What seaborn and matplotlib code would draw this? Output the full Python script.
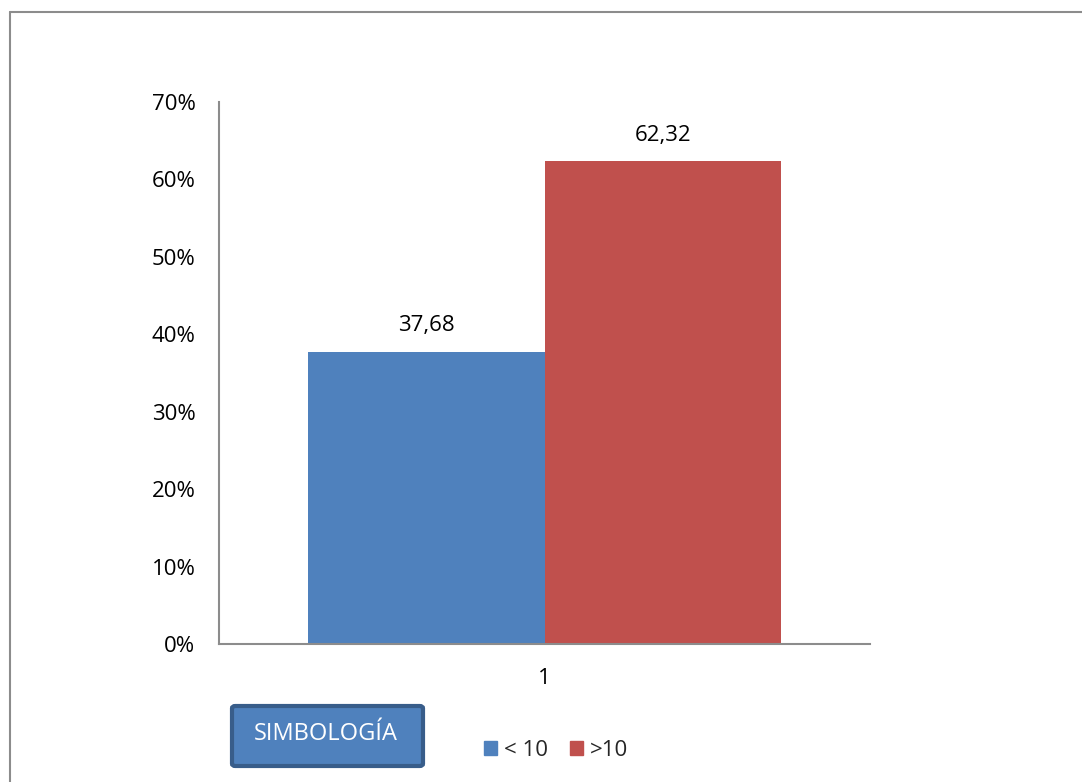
import matplotlib
matplotlib.use("Agg")
import matplotlib.pyplot as plt
from matplotlib.patches import FancyBboxPatch, Rectangle
from matplotlib.lines import Line2D
from matplotlib.ticker import FuncFormatter
import seaborn as sns
import pandas as pd

# Data
categories = ["1", "1"]
groups = ["< 10", ">10"]
values = [37.68, 62.32]
colors = ["#4F81BD", "#C0504D"]
y_ticks = [0, 10, 20, 30, 40, 50, 60, 70]

sns.set_theme(style="white")
plt.rcParams["font.family"] = ["Open Sans", "DejaVu Sans"]

FS = 16

df = pd.DataFrame({"cat": categories, "grupo": groups, "valor": values})

fig = plt.figure(figsize=(10.82, 7.82), dpi=100)
ax = fig.add_axes([0.2024, 0.1765, 0.6017, 0.6931])

sns.barplot(data=df, x="cat", y="valor", hue="grupo", palette=colors,
            width=0.8, saturation=1, ax=ax, legend=False, linewidth=0)

ax.set_xlim(-0.5506, 0.5506)
ax.set_ylim(0, 70)
ax.set_yticks(y_ticks)
ax.yaxis.set_major_formatter(FuncFormatter(lambda v, p: f"{int(v)}%"))
ax.set_xlabel("")
ax.set_ylabel("")

for s in ["top", "right"]:
    ax.spines[s].set_visible(False)
for s in ["left", "bottom"]:
    ax.spines[s].set_color("#8C8C8C")
    ax.spines[s].set_linewidth(1.5)

ax.tick_params(axis="y", length=0, pad=17, labelsize=FS, labelcolor="black")
ax.tick_params(axis="x", length=0, pad=17, labelsize=FS, labelcolor="black")

# Value labels with comma decimal separator
for cont in ax.containers:
    for bar in cont:
        h = bar.get_height()
        ax.annotate(f"{h:.2f}".replace(".", ","),
                    (bar.get_x() + bar.get_width() / 2, h),
                    xytext=(0, 19), textcoords="offset points",
                    ha="center", va="center", fontsize=FS, color="black")

# Legend below the plot
handles = [Rectangle((0, 0), 1, 1, color=c) for c in colors]
fig.legend(handles, groups, loc="center", bbox_to_anchor=(556 / 1082, 1 - 750 / 782),
           ncol=2, frameon=False, fontsize=FS, handlelength=0.6, handleheight=0.6,
           handletextpad=0.3, columnspacing=1.0, borderaxespad=0)

# "SIMBOLOGÍA" label box
box = FancyBboxPatch((232 / 1082, 1 - 766 / 782), 191 / 1082, 60 / 782,
                     boxstyle="round,pad=0,rounding_size=0.003",
                     transform=fig.transFigure, facecolor="#4F81BD",
                     edgecolor="#385D8A", linewidth=3)
fig.patches.append(box)
fig.text(326 / 1082, 1 - 734 / 782, "SIMBOLOGÍA", ha="center", va="center",
         color="white", fontsize=17)

# Outer frame (top and left edges)
fig.add_artist(Line2D([10 / 1082, 1], [1 - 12 / 782, 1 - 12 / 782],
                      transform=fig.transFigure, color="#8C8C8C", linewidth=1.5))
fig.add_artist(Line2D([10 / 1082, 10 / 1082], [0, 1 - 12 / 782],
                      transform=fig.transFigure, color="#8C8C8C", linewidth=1.5))

fig.savefig("out.png", dpi=100)
